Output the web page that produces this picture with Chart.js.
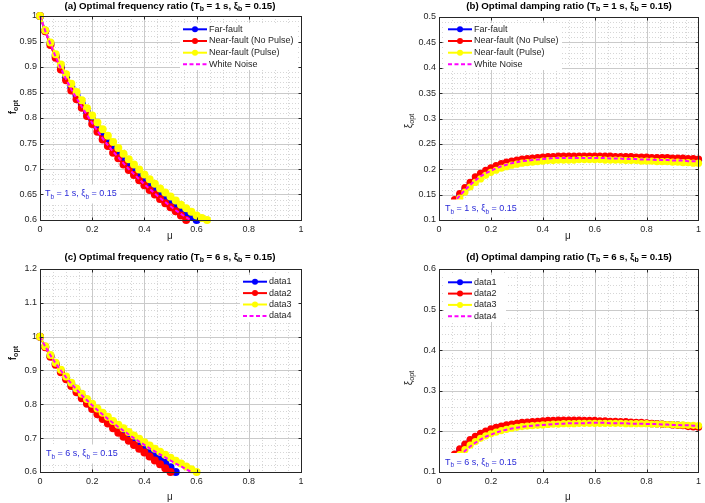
<!DOCTYPE html>
<html><head><meta charset="utf-8">
<script src="https://cdn.jsdelivr.net/npm/chart.js@4/dist/chart.umd.min.js"></script>
<style>
body{margin:0;background:#fff;width:705px;height:503px;position:relative;overflow:hidden}
canvas{position:absolute;display:block}
</style></head><body>
<canvas id="pa" width="352" height="250" style="left:0;top:0"></canvas>
<canvas id="pb" width="353" height="250" style="left:352px;top:0"></canvas>
<canvas id="pc" width="352" height="253" style="left:0;top:250px"></canvas>
<canvas id="pd" width="353" height="253" style="left:352px;top:250px"></canvas>
<script>
// ---------- data ----------
const MU = [0,0.02,0.04,0.06,0.08,0.1,0.12,0.14,0.16,0.18,0.2,0.22,0.24,0.26,0.28,0.3,0.32,0.34,0.36,0.38,0.4,0.42,0.44,0.46,0.48,0.5,0.52,0.54,0.56,0.58,0.6,0.62,0.64,0.66,0.68,0.7,0.72,0.74,0.76,0.78,0.8,0.82,0.84,0.86,0.88,0.9,0.92,0.94,0.96,0.98,1];

// (a) optimal frequency ratio, Tb = 1 s
const A_FAR   = [1.000,0.971,0.946,0.922,0.900,0.880,0.861,0.844,0.828,0.812,0.797,0.782,0.768,0.755,0.743,0.731,0.720,0.709,0.699,0.689,0.679,0.670,0.661,0.652,0.644,0.636,0.628,0.621,0.614,0.607,0.600];
const A_NEAR  = [1.000,0.970,0.943,0.918,0.895,0.874,0.854,0.837,0.820,0.804,0.788,0.773,0.758,0.745,0.732,0.721,0.709,0.698,0.688,0.678,0.668,0.659,0.650,0.641,0.633,0.625,0.617,0.609,0.600];
const A_PULSE = [1.000,0.972,0.948,0.925,0.905,0.886,0.867,0.851,0.835,0.819,0.805,0.791,0.778,0.765,0.753,0.741,0.730,0.719,0.709,0.699,0.689,0.680,0.671,0.662,0.654,0.646,0.638,0.630,0.623,0.616,0.609,0.604,0.600];
const A_WN    = [1.000,0.971,0.945,0.920,0.897,0.876,0.856,0.839,0.822,0.806,0.790,0.775,0.760,0.747,0.734,0.723,0.711,0.700,0.690,0.680,0.670,0.661,0.652,0.643,0.635,0.627,0.619,0.612,0.605,0.599];

// (b) optimal damping ratio, Tb = 1 s
const B_FAR   = [null,null,0.122,0.137,0.149,0.160,0.171,0.180,0.188,0.194,0.199,0.203,0.207,0.210,0.213,0.215,0.217,0.218,0.219,0.220,0.221,0.222,0.222,0.223,0.223,0.223,0.223,0.223,0.223,0.223,0.223,0.223,0.223,0.223,0.223,0.222,0.222,0.222,0.221,0.221,0.221,0.220,0.220,0.220,0.219,0.219,0.218,0.218,0.218,0.217,0.217];
const B_NEAR  = [null,null,0.124,0.140,0.152,0.164,0.174,0.185,0.192,0.198,0.203,0.207,0.211,0.214,0.216,0.218,0.220,0.221,0.222,0.223,0.224,0.225,0.225,0.226,0.226,0.226,0.226,0.226,0.226,0.226,0.226,0.226,0.226,0.226,0.225,0.225,0.225,0.225,0.224,0.224,0.224,0.223,0.223,0.223,0.223,0.222,0.222,0.222,0.221,0.221,0.220];
const B_PULSE = [null,null,null,0.128,0.143,0.155,0.165,0.174,0.181,0.188,0.194,0.198,0.202,0.205,0.208,0.210,0.212,0.213,0.214,0.215,0.216,0.217,0.217,0.218,0.218,0.218,0.218,0.219,0.219,0.219,0.219,0.219,0.218,0.218,0.218,0.218,0.217,0.217,0.217,0.216,0.216,0.216,0.215,0.215,0.215,0.214,0.214,0.213,0.213,0.212,0.212];
const B_WN    = [null,null,0.121,0.136,0.148,0.159,0.169,0.178,0.186,0.192,0.197,0.202,0.206,0.209,0.212,0.214,0.216,0.217,0.218,0.219,0.220,0.221,0.222,0.222,0.222,0.222,0.222,0.222,0.222,0.222,0.222,0.222,0.222,0.221,0.221,0.221,0.220,0.220,0.220,0.219,0.219,0.219,0.218,0.218,0.218,0.217,0.217,0.217,0.216,0.216,0.216];

// (c) optimal frequency ratio, Tb = 6 s
const C_D1 = [1.000,0.970,0.943,0.920,0.898,0.878,0.859,0.841,0.824,0.808,0.793,0.779,0.765,0.752,0.739,0.727,0.715,0.704,0.693,0.682,0.671,0.660,0.649,0.638,0.627,0.614,0.600];
const C_D2 = [1.000,0.969,0.941,0.917,0.895,0.874,0.854,0.836,0.818,0.802,0.786,0.771,0.757,0.743,0.729,0.716,0.704,0.692,0.680,0.669,0.658,0.646,0.634,0.623,0.611,0.600];
const C_D3 = [1.000,0.972,0.946,0.923,0.902,0.882,0.864,0.847,0.831,0.816,0.802,0.788,0.775,0.763,0.751,0.740,0.729,0.718,0.708,0.698,0.688,0.678,0.669,0.660,0.651,0.642,0.633,0.625,0.616,0.608,0.600];
const C_D4 = [1.000,0.971,0.945,0.921,0.900,0.880,0.861,0.844,0.827,0.812,0.797,0.783,0.770,0.757,0.745,0.733,0.722,0.711,0.700,0.690,0.680,0.670,0.661,0.652,0.643,0.634,0.625,0.617,0.608,0.600];

// (d) optimal damping ratio, Tb = 6 s
const D_D1 = [null,null,0.125,0.141,0.154,0.166,0.176,0.185,0.192,0.198,0.203,0.207,0.210,0.213,0.215,0.217,0.219,0.220,0.221,0.222,0.223,0.224,0.224,0.225,0.225,0.225,0.225,0.225,0.225,0.225,0.224,0.224,0.224,0.223,0.223,0.222,0.222,0.221,0.221,0.220,0.220,0.219,0.219,0.218,0.217,0.217,0.216,0.215,0.214,0.213,0.212];
const D_D2 = [null,null,0.128,0.144,0.157,0.169,0.180,0.188,0.195,0.201,0.206,0.210,0.213,0.216,0.218,0.220,0.222,0.223,0.224,0.225,0.226,0.227,0.227,0.228,0.228,0.228,0.228,0.228,0.227,0.227,0.227,0.226,0.226,0.225,0.225,0.224,0.224,0.223,0.222,0.222,0.221,0.220,0.219,0.218,0.217,0.216,0.215,0.214,0.212,0.211,0.210];
const D_D3 = [null,null,null,0.130,0.143,0.155,0.166,0.175,0.183,0.189,0.194,0.198,0.202,0.205,0.208,0.210,0.212,0.213,0.214,0.215,0.216,0.217,0.218,0.218,0.219,0.219,0.219,0.220,0.220,0.220,0.220,0.220,0.220,0.220,0.220,0.220,0.219,0.219,0.219,0.219,0.219,0.218,0.218,0.218,0.217,0.217,0.216,0.216,0.215,0.215,0.214];
const D_D4 = [null,null,null,0.127,0.140,0.152,0.163,0.172,0.180,0.187,0.192,0.197,0.201,0.204,0.207,0.209,0.211,0.213,0.214,0.215,0.216,0.217,0.218,0.219,0.219,0.220,0.220,0.220,0.220,0.221,0.221,0.221,0.221,0.220,0.220,0.220,0.220,0.219,0.219,0.219,0.218,0.218,0.218,0.217,0.217,0.216,0.216,0.215,0.215,0.214,0.213];

const X_TICKS   = [0,0.2,0.4,0.6,0.8,1];
const Y_TICKS_A = [0.6,0.65,0.7,0.75,0.8,0.85,0.9,0.95,1];
const Y_TICKS_B = [0.1,0.15,0.2,0.25,0.3,0.35,0.4,0.45,0.5];
const Y_TICKS_C = [0.6,0.7,0.8,0.9,1,1.1,1.2];
const Y_TICKS_D = [0.1,0.2,0.3,0.4,0.5,0.6];

const LEGEND_TOP    = ['Far-fault','Near-fault (No Pulse)','Near-fault (Pulse)','White Noise'];
const LEGEND_BOTTOM = ['data1','data2','data3','data4'];

// ---------- styling ----------
const COLORS = ['#0000ff','#ff0000','#ffff00','#ff00ff'];
const FONT = '"Liberation Sans", Arial, Helvetica, sans-serif';
const AX = '#262626';

function pts(arr){ const o=[]; arr.forEach((v,i)=>{ if(v!==null) o.push({x:MU[i],y:v}); }); return o; }
function fmt(v){ return String(Number(v.toFixed(3))); }

function rich(ctx, parts, x, y, o){
  const fs=o.size, sfs=fs*0.72, w8=o.weight||'normal';
  const f=s=>`${w8} ${s}px ${FONT}`;
  let w=0; parts.forEach(p=>{ctx.font=f(p.sub?sfs:fs); w+=ctx.measureText(p.t).width;});
  let cx = o.align==='center' ? x-w/2 : x;
  ctx.fillStyle=o.color; ctx.textBaseline='middle'; ctx.textAlign='left';
  parts.forEach(p=>{ ctx.font=f(p.sub?sfs:fs); ctx.fillText(p.t,cx,y+(p.sub?fs*0.32:0)); cx+=ctx.measureText(p.t).width; });
  return w;
}

function panelPlugin(cfg){
  return {
    id:'panel',
    beforeDatasetsDraw(chart){
      const ctx=chart.ctx, a=chart.chartArea, sx=chart.scales.x, sy=chart.scales.y;
      ctx.save();
      // minor grid (dotted)
      ctx.strokeStyle='#d6d6d6'; ctx.lineWidth=1; ctx.setLineDash([1,2]);
      const xt=X_TICKS, yt=cfg.yTicks;
      for(let i=0;i<xt.length-1;i++){ for(let k=1;k<cfg.xMinor;k++){ const v=xt[i]+(xt[i+1]-xt[i])*k/cfg.xMinor; const px=Math.round(sx.getPixelForValue(v))+0.5; ctx.beginPath(); ctx.moveTo(px,a.top); ctx.lineTo(px,a.bottom); ctx.stroke(); } }
      for(let i=0;i<yt.length-1;i++){ for(let k=1;k<cfg.yMinor;k++){ const v=yt[i]+(yt[i+1]-yt[i])*k/cfg.yMinor; const py=Math.round(sy.getPixelForValue(v))+0.5; ctx.beginPath(); ctx.moveTo(a.left,py); ctx.lineTo(a.right,py); ctx.stroke(); } }
      // major grid
      ctx.setLineDash([]); ctx.strokeStyle='#cacaca';
      xt.forEach(v=>{ const px=Math.round(sx.getPixelForValue(v))+0.5; ctx.beginPath(); ctx.moveTo(px,a.top); ctx.lineTo(px,a.bottom); ctx.stroke(); });
      yt.forEach(v=>{ const py=Math.round(sy.getPixelForValue(v))+0.5; ctx.beginPath(); ctx.moveTo(a.left,py); ctx.lineTo(a.right,py); ctx.stroke(); });
      ctx.restore();
    },
    afterDatasetsDraw(chart){
      const ctx=chart.ctx, a=chart.chartArea, sx=chart.scales.x, sy=chart.scales.y;
      ctx.save();
      // annotation with white background
      const an=cfg.annot;
      const ap=[{t:'T'},{t:'b',sub:1},{t:an.text1},{t:'b',sub:1},{t:' = 0.15'}];
      let w=0; ap.forEach(p=>{ctx.font=`${p.sub?9*0.72:9}px ${FONT}`; w+=ctx.measureText(p.t).width;});
      ctx.fillStyle='#fff';
      const top=an.y-9.5, bot=Math.min(an.y+9.5,a.bottom-0.5);
      ctx.fillRect(an.x-3.5, top, w+7, bot-top);
      rich(ctx, ap, an.x, an.y, {size:9,color:'#2a2ad8'});
      // legend
      const L=cfg.leg;
      ctx.fillStyle='#fff'; ctx.fillRect(L.box[0],L.box[1],L.box[2],L.box[3]);
      cfg.labels.forEach((lab,k)=>{
        const y=L.rows[k];
        ctx.strokeStyle=COLORS[k]; ctx.lineWidth=2; ctx.setLineDash(k===3?[4,2.5]:[]);
        ctx.beginPath(); ctx.moveTo(L.x0,y); ctx.lineTo(L.x0+24,y); ctx.stroke();
        ctx.setLineDash([]);
        if(k<3){ ctx.fillStyle=COLORS[k]; ctx.beginPath(); ctx.arc(L.x0+12,y,3,0,Math.PI*2); ctx.fill(); }
        ctx.fillStyle=AX; ctx.font=`9px ${FONT}`; ctx.textBaseline='middle'; ctx.textAlign='left';
        ctx.fillText(lab,L.x0+26,y);
      });
      // axes box and inward ticks
      ctx.strokeStyle=AX; ctx.lineWidth=1; ctx.setLineDash([]);
      const l=Math.round(a.left)+0.5, r=Math.round(a.right)+0.5, t=Math.round(a.top)+0.5, b=Math.round(a.bottom)+0.5;
      ctx.strokeRect(l,t,r-l,b-t);
      ctx.beginPath();
      X_TICKS.forEach(v=>{ const px=Math.round(sx.getPixelForValue(v))+0.5; ctx.moveTo(px,b); ctx.lineTo(px,b-3); ctx.moveTo(px,t); ctx.lineTo(px,t+3); });
      cfg.yTicks.forEach(v=>{ const py=Math.round(sy.getPixelForValue(v))+0.5; ctx.moveTo(l,py); ctx.lineTo(l+3,py); ctx.moveTo(r,py); ctx.lineTo(r-3,py); });
      ctx.stroke();
      ctx.restore();
    },
    afterDraw(chart){
      const ctx=chart.ctx;
      ctx.save();
      rich(ctx, cfg.title, cfg.titlePos[0], cfg.titlePos[1], {size:9.7,weight:'bold',color:'#000',align:'center'});
      rich(ctx, [{t:'μ'}], cfg.xlabPos[0], cfg.xlabPos[1], {size:10,color:AX,align:'center'});
      ctx.translate(cfg.ylabPos[0], cfg.ylabPos[1]); ctx.rotate(-Math.PI/2);
      rich(ctx, cfg.ylab, 0, 0, {size:10,weight:cfg.ylabBold?'bold':'normal',color:AX,align:'center'});
      ctx.restore();
    }
  };
}

function makeChart(id, cfg){
  const cv=document.getElementById(id);
  const W=cv.width, H=cv.height;
  const tickFont={family:FONT,size:9};
  return new Chart(cv,{
    type:'scatter',
    data:{datasets:cfg.series.map((s,k)=>({
      label:cfg.labels[k], data:pts(s), showLine:true,
      borderColor:COLORS[k], backgroundColor:COLORS[k], borderWidth:2,
      borderDash:k===3?[4,2.5]:[], pointRadius:k===3?0:cfg.mr, pointBorderWidth:0,
      pointBackgroundColor:COLORS[k], order:3-k, clip:false, tension:0
    }))},
    options:{
      responsive:false, animation:false, events:[], devicePixelRatio:1,
      layout:{padding:{left:0,top:cfg.area.top,right:W-cfg.area.right,bottom:0}},
      plugins:{legend:{display:false},tooltip:{enabled:false},title:{display:false}},
      scales:{
        x:{type:'linear',min:0,max:1,
           afterBuildTicks:s=>{s.ticks=X_TICKS.map(v=>({value:v}));},
           afterFit:s=>{s.height=H-cfg.area.bottom;},
           grid:{display:false,drawTicks:false,tickLength:0}, border:{display:false},
           ticks:{font:tickFont,color:AX,padding:4,maxRotation:0,autoSkip:false,callback:v=>fmt(v)}},
        y:{type:'linear',min:cfg.yTicks[0],max:cfg.yTicks[cfg.yTicks.length-1],
           afterBuildTicks:s=>{s.ticks=cfg.yTicks.map(v=>({value:v}));},
           afterFit:s=>{s.width=cfg.area.left;},
           grid:{display:false,drawTicks:false,tickLength:0}, border:{display:false},
           ticks:{font:tickFont,color:AX,padding:3,autoSkip:false,callback:v=>fmt(v)}}
      }
    },
    plugins:[panelPlugin(cfg)]
  });
}

makeChart('pa',{
  series:[A_FAR,A_NEAR,A_PULSE,A_WN], labels:LEGEND_TOP, yTicks:Y_TICKS_A, xMinor:4, yMinor:5, mr:4,
  area:{left:40,right:301,top:16,bottom:220},
  title:[{t:'(a) Optimal frequency ratio (T'},{t:'b',sub:1},{t:' = 1 s, ξ'},{t:'b',sub:1},{t:' = 0.15)'}], titlePos:[170,6],
  xlabPos:[170,236], ylab:[{t:'f'},{t:'opt',sub:1}], ylabBold:true, ylabPos:[13,107],
  annot:{x:45,y:194,text1:' = 1 s, ξ'},
  leg:{x0:183,rows:[29.3,41,52.7,64.3],box:[180,23,118,47]}
});
makeChart('pb',{
  series:[B_FAR,B_NEAR,B_PULSE,B_WN], labels:LEGEND_TOP, yTicks:Y_TICKS_B, xMinor:4, yMinor:5, mr:3.6,
  area:{left:87,right:347,top:17,bottom:220},
  title:[{t:'(b) Optimal damping ratio (T'},{t:'b',sub:1},{t:' = 1 s, ξ'},{t:'b',sub:1},{t:' = 0.15)'}], titlePos:[217,6],
  xlabPos:[216,236], ylab:[{t:'ξ'},{t:'opt',sub:1}], ylabBold:false, ylabPos:[57,121],
  annot:{x:93,y:209,text1:' = 1 s, ξ'},
  leg:{x0:96,rows:[29.3,41,52.7,64.3],box:[92,23,118,47]}
});
makeChart('pc',{
  series:[C_D1,C_D2,C_D3,C_D4], labels:LEGEND_BOTTOM, yTicks:Y_TICKS_C, xMinor:4, yMinor:5, mr:4,
  area:{left:40,right:301,top:19,bottom:222},
  title:[{t:'(c) Optimal frequency ratio (T'},{t:'b',sub:1},{t:' = 6 s, ξ'},{t:'b',sub:1},{t:' = 0.15)'}], titlePos:[170,7],
  xlabPos:[170,247], ylab:[{t:'f'},{t:'opt',sub:1}], ylabBold:true, ylabPos:[13,103],
  annot:{x:46,y:204,text1:' = 6 s, ξ'},
  leg:{x0:243,rows:[31.7,43.1,54.5,65.9],box:[240,25,60,47]}
});
makeChart('pd',{
  series:[D_D1,D_D2,D_D3,D_D4], labels:LEGEND_BOTTOM, yTicks:Y_TICKS_D, xMinor:4, yMinor:5, mr:3.6,
  area:{left:87,right:347,top:19,bottom:222},
  title:[{t:'(d) Optimal damping ratio (T'},{t:'b',sub:1},{t:' = 6 s, ξ'},{t:'b',sub:1},{t:' = 0.15)'}], titlePos:[217,7],
  xlabPos:[216,247], ylab:[{t:'ξ'},{t:'opt',sub:1}], ylabBold:false, ylabPos:[57,128],
  annot:{x:93,y:212.5,text1:' = 6 s, ξ'},
  leg:{x0:96,rows:[32.3,43.6,54.9,66.2],box:[92,25,62,47]}
});
</script>
</body></html>
